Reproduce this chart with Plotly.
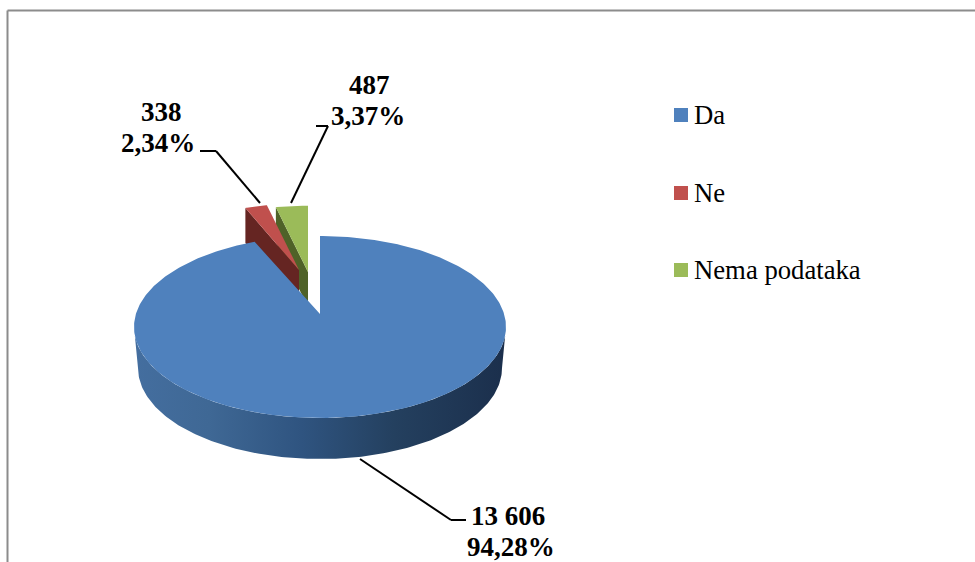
import numpy as np
import plotly.graph_objects as go

categories = ["Da", "Ne", "Nema podataka"]
values = [13606, 338, 487]
value_labels = ["13 606", "338", "487"]
percent_labels = ["94,28%", "2,34%", "3,37%"]

face_colors = ["#4f81bd", "#c0504d", "#9bbb59"]
side_colors = ["#2f5480", "#652522", "#4f6228"]
FONT = "Liberation Serif"

# pie geometry in chart pixels
CX, CY, RX, RY = 320, 327, 186, 91
APEX_Y = 314
DEPTH = 41
OFFSETS = {1: (-21, -44), 2: (-12, -42)}
SCALE_X = 0.82
SCALE_Y = 0.85
SLICE_DEPTH = 35

fractions = np.array(values, dtype=float) / sum(values)
edges = np.concatenate([[0.0], np.cumsum(fractions)]) * 2 * np.pi

fig = go.Figure()


def arc(a0, a1, n=160):
    return np.linspace(a0, a1, n)


def add_poly(xs, ys, color, name):
    fig.add_trace(go.Scatter(x=list(xs), y=list(ys), mode="lines", fill="toself",
                             fillcolor=color, line=dict(width=0, color=color),
                             hoverinfo="name", name=name, showlegend=False))


# exploded slices, drawn back to front: green then red
for i in (2, 1):
    dx, dy = OFFSETS[i]
    ax, ay = CX + dx, APEX_Y + dy
    t = arc(edges[i], edges[i + 1], 30)
    ox = ax + SCALE_X * RX * np.sin(t)
    oy = ay - SCALE_Y * (APEX_Y - (CY - RY)) * np.cos(t)
    add_poly([ox[0], ox[0], ax, ax, ox[0]],
             [oy[0], oy[0] + SLICE_DEPTH, ay + SLICE_DEPTH, ay, oy[0]],
             side_colors[i], categories[i])
    add_poly(np.r_[ax, ox, ax], np.r_[ay, oy, ay], face_colors[i], categories[i])

# front wall of the large slice with a horizontal gradient
t = arc(np.pi / 2, 3 * np.pi / 2, 200)
top_x = CX + RX * np.sin(t)
top_y = CY - RY * np.cos(t)
bot_x = CX + (RX - 4) * np.sin(t[::-1])
bot_y = CY + DEPTH - RY * np.cos(t[::-1])
fig.add_trace(go.Scatter(
    x=np.r_[top_x, bot_x, top_x[0]], y=np.r_[top_y, bot_y, top_y[0]],
    mode="lines", fill="toself", line=dict(width=0),
    fillgradient=dict(type="horizontal", colorscale=[
        [0.0, "#446e9f"], [0.2, "#3f6895"], [0.45, "#2f5480"],
        [0.7, "#24405f"], [1.0, "#1b2f4c"]]),
    hoverinfo="name", name=categories[0], showlegend=False))

# top face of the large slice
t = arc(edges[0], edges[1], 400)
add_poly(np.r_[CX, CX + RX * np.sin(t), CX],
         np.r_[APEX_Y, CY - RY * np.cos(t), APEX_Y],
         face_colors[0], categories[0])

# legend
legend_y = [115, 193, 270]
fig.add_trace(go.Scatter(
    x=[681] * 3, y=legend_y, mode="markers",
    marker=dict(symbol="square", size=14, color=face_colors, line=dict(width=0)),
    text=categories, hoverinfo="text", showlegend=False))
for c, y in zip(categories, legend_y):
    fig.add_annotation(x=692, y=y, text=c, showarrow=False, xanchor="left",
                       font=dict(family=FONT, size=26.7, color="#000000"))

# data labels
label_pos = [(508, 516, 511, 547), (161, 112, 158, 143), (369, 85, 368, 116)]
for i, (x1, y1, x2, y2) in enumerate(label_pos):
    fig.add_annotation(x=x1, y=y1, text=f"<b>{value_labels[i]}</b>", showarrow=False,
                       font=dict(family=FONT, size=27, color="#000000"))
    fig.add_annotation(x=x2, y=y2, text=f"<b>{percent_labels[i]}</b>", showarrow=False,
                       font=dict(family=FONT, size=27, color="#000000"))

# leader lines and chart border
leaders = [[(360, 459), (451, 520), (466, 520)],
           [(200, 151), (216, 151), (260, 203)],
           [(316, 126), (328, 126), (291, 203)]]
shapes = []
for pts in leaders:
    for (x0, y0), (x1, y1) in zip(pts[:-1], pts[1:]):
        shapes.append(dict(type="line", x0=x0, y0=y0, x1=x1, y1=y1, layer="below",
                           line=dict(color="#000000", width=2)))
for (x0, y0, x1, y1) in [(7.5, 10.5, 7.5, 562), (7.5, 10.5, 975, 10.5)]:
    shapes.append(dict(type="line", x0=x0, y0=y0, x1=x1, y1=y1,
                       line=dict(color="#8c8c8c", width=2)))

fig.update_layout(
    width=975, height=562, margin=dict(l=0, r=0, t=0, b=0),
    paper_bgcolor="#ffffff", plot_bgcolor="#ffffff", showlegend=False, shapes=shapes,
    xaxis=dict(range=[0, 975], visible=False, fixedrange=True),
    yaxis=dict(range=[562, 0], visible=False, fixedrange=True),
)
fig.write_html("out.html", config={"displayModeBar": False},
               post_script="document.body.style.margin='0';")
